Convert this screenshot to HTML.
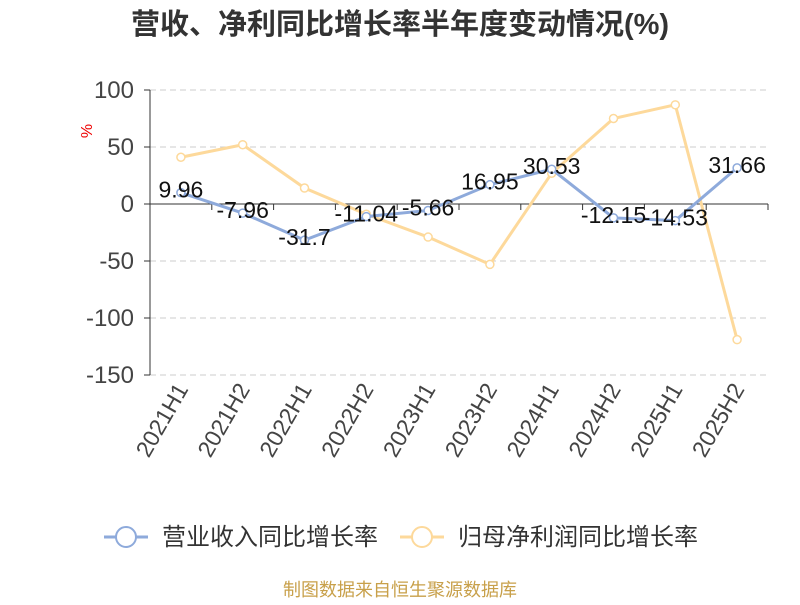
<!DOCTYPE html>
<html><head><meta charset="utf-8"><style>
body{margin:0;background:#fff;}
svg text{font-family:"Liberation Sans","Noto Sans CJK SC",sans-serif;}
</style></head><body>
<svg id="c" width="800" height="600">
<text x="400" y="34" text-anchor="middle" font-size="29" font-weight="bold" fill="#333">营收、净利同比增长率半年度变动情况(%)</text>
<text x="0" y="0" transform="translate(92,131) rotate(-90)" text-anchor="middle" font-size="16" fill="#e00">%</text>
<g id="grid"></g><g id="axes"></g><g id="series"></g>
<g>
<g>
<line x1="104" y1="537" x2="148" y2="537" stroke="#8eaadb" stroke-width="3"/>
<circle cx="126" cy="537" r="10" fill="#fff" stroke="#8eaadb" stroke-width="2"/>
<text x="162" y="545" font-size="24" fill="#333">营业收入同比增长率</text></g>
<g>
<line x1="400" y1="537" x2="444" y2="537" stroke="#fdd99b" stroke-width="3"/>
<circle cx="422" cy="537" r="10" fill="#fff" stroke="#fdd99b" stroke-width="2"/>
<text x="458" y="545" font-size="24" fill="#333">归母净利润同比增长率</text></g>
</g>
<text x="400" y="596" text-anchor="middle" font-size="18" fill="#c8a04a">制图数据来自恒生聚源数据库</text>
</svg>
<script>
const categories=["2021H1","2021H2","2022H1","2022H2","2023H1","2023H2","2024H1","2024H2","2025H1","2025H2"];
const revenueGrowth=[9.96,-7.96,-31.7,-11.04,-5.66,16.95,30.53,-12.15,-14.53,31.66];
const profitGrowth=[41,52,14,-9,-29,-53,27,75,87,-119];
const yTicks=[100,50,0,-50,-100,-150];
const NS="http://www.w3.org/2000/svg";
const L=150,R=768,T=90,B=375;
const yS=v=>204-v*1.14;
const bw=(R-L)/categories.length;
const xS=i=>L+bw*(i+0.5);
function mk(tag,at,parent){const e=document.createElementNS(NS,tag);for(const k in at)e.setAttribute(k,at[k]);parent.appendChild(e);return e;}
const grid=document.getElementById('grid'),axes=document.getElementById('axes'),ser=document.getElementById('series');
yTicks.forEach(v=>{
 const g=mk('line',{x1:L,x2:R,y1:yS(v),y2:yS(v),stroke:'#ccc','stroke-dasharray':'6,4'},grid);
 
 
 mk('line',{x1:L-6,x2:L,y1:yS(v),y2:yS(v),stroke:'#333'},axes);
 const t=mk('text',{x:L-16,y:yS(v)+8,'text-anchor':'end','font-size':24,fill:'#444'},axes);
 t.textContent=v;
 
 
});
const ya=mk('line',{x1:L,x2:L,y1:T,y2:B,stroke:'#333'},axes);


const xa=mk('line',{x1:L,x2:R,y1:yS(0),y2:yS(0),stroke:'#333'},axes);


for(let i=0;i<=categories.length;i++)mk('line',{x1:L+bw*i,x2:L+bw*i,y1:yS(0),y2:yS(0)+6,stroke:'#333'},axes);
categories.forEach((c,i)=>{
 const t=mk('text',{x:0,y:0,transform:`translate(${xS(i)+8},${B+14}) rotate(-60)`,'text-anchor':'end','font-size':23,fill:'#444'},axes);
 t.textContent=c;
 
 
});
function series(vals,color,name){
 const p=mk('polyline',{points:vals.map((v,i)=>xS(i)+','+yS(v)).join(' '),fill:'none',stroke:color,'stroke-width':3},ser);
 
 
 vals.forEach((v,i)=>{
  const c=mk('circle',{cx:xS(i),cy:yS(v),r:4,fill:'#fff',stroke:color,'stroke-width':1.5},ser);
  
  
 });
}
series(profitGrowth,'#fdd99b','profit');
series(revenueGrowth,'#8eaadb','revenue');
revenueGrowth.forEach((v,i)=>{
 const t=mk('text',{x:xS(i),y:yS(v)+5,'text-anchor':'middle','font-size':23,fill:'#111'},ser);
 t.textContent=v;
 
 
});
</script>
</body></html>
